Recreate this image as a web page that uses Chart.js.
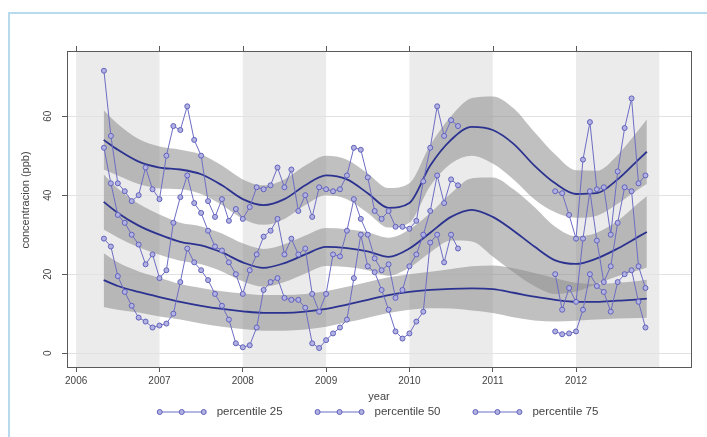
<!DOCTYPE html>
<html>
<head>
<meta charset="utf-8">
<script src="https://cdn.jsdelivr.net/npm/chart.js@4.4.1/dist/chart.umd.min.js"></script>
<style>html,body{margin:0;padding:0;background:#fff}canvas{display:block}</style>
</head>
<body>
<canvas id="c" width="707" height="437"></canvas>
<script>
// ---- categories (monthly) ----
const months = [
 "2006-05","2006-06","2006-07","2006-08","2006-09","2006-10","2006-11","2006-12",
 "2007-01","2007-02","2007-03","2007-04","2007-05","2007-06","2007-07","2007-08","2007-09","2007-10","2007-11","2007-12",
 "2008-01","2008-02","2008-03","2008-04","2008-05","2008-06","2008-07","2008-08","2008-09","2008-10","2008-11","2008-12",
 "2009-01","2009-02","2009-03","2009-04","2009-05","2009-06","2009-07","2009-08","2009-09","2009-10","2009-11","2009-12",
 "2010-01","2010-02","2010-03","2010-04","2010-05","2010-06","2010-07","2010-08","2010-09","2010-10","2010-11","2010-12",
 "2011-01","2011-02","2011-03","2011-04","2011-05","2011-06","2011-07","2011-08","2011-09","2011-10","2011-11","2011-12",
 "2012-01","2012-02","2012-03","2012-04","2012-05","2012-06","2012-07","2012-08","2012-09","2012-10","2012-11"
];
// ---- monthly percentile series (ppb) ----
const p25 = [29,27,19.5,15.5,12,9,8,6.5,7,7.5, 10,18,26.5,23,21,18.5,15,12,8.5,2.5,
 1.5,2,6.5,16,18,19,14,13.5,13.5,11.5, 2.5,1.3,3.3,5,6.5,8.5,19,30,22,20.5,
 16,11,5.5,3.7,5,8,10.5,28,30,23, 30,26.5,
 null,null,null,null,null,null,null,null,null,null,null,null,null,
 5.5,4.8,5,5.5,11,20,17,15.5,10.5,18,20,21,13,6.5];
const p50 = [52,43,35,33,30,27.5,22.5,25,19,21, 33,39.5,45,38,35.5,31,27,26,23,20,
 15,21,25,29.5,31,34,25,29,25,26.5, 15,10.5,15,25,24.5,31,39,34,30,24,
 21,22.5,14,16,22,25,30,36,45,38, 44,42.5,
 null,null,null,null,null,null,null,null,null,null,null,null,null,
 20,11,16.5,13,29,41,28.5,18,22,33,42,41,22,16.5];
const p75 = [71.5,55,43,41,38.5,40,47,41.5,39,50, 57.5,56.5,62.5,54,50,38.5,34.5,39,33.5,36.5,
 34,37,42,41.5,42.5,47,42,46.5,36,40, 34.5,42,41.5,41,41.5,45,52,51.5,44.5,36,
 34,36,32,32,31.5,33.5,43.5,52,62.5,55, 59,57.5,
 null,null,null,null,null,null,null,null,null,null,null,null,null,
 41,40.5,35,29,49,58.5,41.5,42,30,46,57,64.5,43,45];

// ---- smoothed fits and confidence bands ----
const fitYears = [2006.33,2006.5,2006.75,2007,2007.25,2007.5,2007.75,2008,2008.25,2008.5,2008.75,2009,2009.25,2009.5,
 2009.75,2010,2010.25,2010.5,2010.75,2011,2011.25,2011.5,2011.75,2012,2012.25,2012.5,2012.75,2012.85];
const fit75   = [54,51.5,48.5,47,46.5,45.3,42.5,39,37.5,39,42.5,45,44,40.5,36.8,38,47.5,54,57.3,56.5,53,47.5,43,40.3,40.5,44,49,51];
const fit75Lo = [46.5,45,42.8,41.7,41.5,40.3,37.5,34,32.5,34,37.5,40,39,35.5,31.8,33,42.3,48,50,48,44,39,35.7,34.3,34.8,37.8,41.5,42.8];
const fit75Hi = [61.5,58,54.2,52.3,51.5,50.3,47.5,44,42.5,44,47.5,50,49,45.5,41.8,43,52.7,60,64.6,65,62,56,50.3,46.3,46.2,50.2,56.5,59.2];
const fit50   = [38.3,35.5,32.3,30,28.2,27.3,25.5,23,21.6,22.8,25,26.9,26.6,25.8,24.4,26.5,30.5,34.5,36.3,34.5,31,27,23.5,22.6,24,26.5,29.5,30.7];
const fit50Lo = [31.3,29.3,26.8,24.9,23.4,22.5,20.7,18.2,16.8,18,20.2,22.1,21.8,21,19.6,21.7,25.5,28.5,28.3,24.5,20.5,17,15,15.6,17.5,19.5,21,21.7];
const fit50Hi = [45.3,41.7,37.8,35.1,33,32.1,30.3,27.8,26.4,27.6,29.8,31.7,31.4,30.6,29.2,31.3,35.5,40.5,44.3,44.5,41.5,37,32,29.6,30.5,33.5,38,39.7];
const fit25   = [18.5,17,15.5,14.2,13,12,11.2,10.6,10.2,10.2,10.5,11.2,12.3,13.5,14.7,15.5,16,16.3,16.4,16.2,15.3,14.3,13.5,13,13,13.3,13.6,13.8];
const fit25Lo = [11.7,11,10.3,9.3,8.5,7.5,6.7,6.1,5.7,5.7,6,6.7,7.8,9,10.2,11,11.4,11.3,10.8,10.2,9.1,8.3,8,8.2,8.5,8.8,8.9,9];
const fit25Hi = [25.3,23,20.7,19.1,17.5,16.5,15.7,15.1,14.7,14.7,15,15.7,16.8,18,19.2,20,20.6,21.3,22,22.2,21.5,20.3,19,17.8,17.5,17.8,18.3,18.6];

// ---- axes ----
const xTicks = [2006,2007,2008,2009,2010,2011,2012];
const yTicks = [0,20,40,60];
const shadedYears = [2006,2008,2010,2012];
const seriesLabels = ["percentile 25","percentile 50","percentile 75"];

const FONT = '"Liberation Sans", Arial, sans-serif';
const LINE = '#6d6dc4';
const PT_FILL = '#b2b2e2';
const PT_BORDER = '#6262bc';
const FIT = '#2b3290';
const BAND = 'rgba(140,140,140,0.55)';

function toYear(s){ const p = s.split('-').map(Number); return p[0] + (p[1]-1)/12; }
const pts = arr => months.map((m,i) => ({x: toYear(m), y: arr[i]}));
const fit = arr => fitYears.map((x,i) => ({x: x, y: arr[i]}));

function bandPair(hi, lo){
  return [
    {data: fit(hi), fill: '+1', backgroundColor: BAND, borderWidth: 0, pointRadius: 0, cubicInterpolationMode: 'monotone', order: 3},
    {data: fit(lo), fill: false, borderWidth: 0, pointRadius: 0, cubicInterpolationMode: 'monotone', order: 3}
  ];
}
function fitLine(arr){
  return {data: fit(arr), fill: false, borderColor: FIT, borderWidth: 1.8, pointRadius: 0, cubicInterpolationMode: 'monotone', order: 2};
}
function raw(arr, label){
  return {label: label, data: pts(arr), fill: false, borderColor: LINE, borderWidth: 1, spanGaps: false,
    pointRadius: 2.5, pointBackgroundColor: PT_FILL, pointBorderColor: PT_BORDER, pointBorderWidth: 1, order: 1};
}

const decor = {
  id: 'decor',
  beforeDraw(chart){
    const {ctx, chartArea: a, scales: {x}} = chart;
    ctx.save();
    ctx.fillStyle = '#fff';
    ctx.fillRect(0, 0, chart.width, chart.height);
    ctx.strokeStyle = '#b7daee'; ctx.lineWidth = 2;
    ctx.beginPath(); ctx.moveTo(9, chart.height + 2); ctx.lineTo(9, 13); ctx.lineTo(chart.width + 2, 13); ctx.stroke();
    ctx.fillStyle = '#ebebeb';
    shadedYears.forEach(y0 => {
      const l = Math.max(x.getPixelForValue(y0), a.left);
      const r = Math.min(x.getPixelForValue(y0 + 1), a.right);
      if (r > l) ctx.fillRect(l, a.top, r - l, a.bottom - a.top);
    });
    ctx.restore();
  },
  afterDraw(chart){
    const {ctx, chartArea: a, scales: {x}} = chart;
    ctx.save();
    // frame
    ctx.strokeStyle = '#5a5a5a'; ctx.lineWidth = 1;
    ctx.strokeRect(Math.round(a.left) + 0.5, Math.round(a.top) + 0.5, Math.round(a.right - a.left), Math.round(a.bottom - a.top));
    // top ticks
    ctx.beginPath();
    xTicks.forEach(v => { const px = Math.round(x.getPixelForValue(v)) + 0.5; ctx.moveTo(px, a.top); ctx.lineTo(px, a.top - 5); });
    ctx.stroke();
    // axis titles
    ctx.fillStyle = '#444';
    ctx.font = '11px ' + FONT;
    ctx.textAlign = 'center'; ctx.textBaseline = 'middle';
    ctx.fillText('year', (a.left + a.right) / 2, 397);
    ctx.save();
    ctx.translate(26, 200); ctx.rotate(-Math.PI / 2);
    ctx.fillText('concentracion (ppb)', 0, 0);
    ctx.restore();
    // legend
    ctx.font = '11.5px ' + FONT;
    const mw = 44, g1 = 13, g2 = 35, ly = 412;
    const widths = seriesLabels.map(t => ctx.measureText(t).width);
    const total = widths.reduce((s, w) => s + mw + g1 + w, 0) + g2 * (seriesLabels.length - 1);
    let x0 = (a.left + a.right) / 2 - total / 2;
    seriesLabels.forEach((t, i) => {
      ctx.strokeStyle = LINE; ctx.lineWidth = 1;
      ctx.beginPath(); ctx.moveTo(x0, ly); ctx.lineTo(x0 + mw, ly); ctx.stroke();
      [0, mw / 2, mw].forEach(dx => {
        ctx.beginPath(); ctx.arc(x0 + dx, ly, 2.5, 0, Math.PI * 2);
        ctx.fillStyle = PT_FILL; ctx.fill();
        ctx.strokeStyle = PT_BORDER; ctx.stroke();
      });
      ctx.fillStyle = '#444'; ctx.textAlign = 'left'; ctx.textBaseline = 'middle';
      ctx.fillText(t, x0 + mw + g1, ly);
      x0 += mw + g1 + widths[i] + g2;
    });
    ctx.restore();
  }
};

new Chart(document.getElementById('c'), {
  type: 'line',
  data: {
    datasets: [
      ...bandPair(fit75Hi, fit75Lo),
      ...bandPair(fit50Hi, fit50Lo),
      ...bandPair(fit25Hi, fit25Lo),
      fitLine(fit75), fitLine(fit50), fitLine(fit25),
      raw(p25, seriesLabels[0]), raw(p50, seriesLabels[1]), raw(p75, seriesLabels[2])
    ]
  },
  options: {
    responsive: false,
    devicePixelRatio: 1,
    animation: false,
    events: [],
    layout: {padding: {left: 0, right: 16, top: 51, bottom: 0}},
    plugins: {legend: {display: false}, tooltip: {enabled: false}, title: {display: false}},
    scales: {
      x: {
        type: 'linear', min: 2005.89, max: 2013.38,
        afterBuildTicks: s => { s.ticks = xTicks.map(v => ({value: v})); },
        afterFit: s => { s.height = 70; },
        border: {display: false},
        grid: {drawOnChartArea: false, drawTicks: true, tickLength: 5, tickColor: '#5a5a5a', color: '#5a5a5a'},
        ticks: {color: '#444', font: {family: FONT, size: 10}, padding: 3, maxRotation: 0, autoSkip: false,
          callback: v => String(v)}
      },
      y: {
        type: 'linear', min: -3.5, max: 76.5,
        afterBuildTicks: s => { s.ticks = yTicks.map(v => ({value: v})); },
        afterFit: s => { s.width = 67; },
        border: {display: false},
        grid: {color: '#e2e2e2', lineWidth: 1, drawTicks: true, tickLength: 5, tickColor: '#5a5a5a'},
        ticks: {color: '#444', font: {family: FONT, size: 10}, padding: 8, minRotation: 90, maxRotation: 90,
          crossAlign: 'center', callback: v => String(v)}
      }
    }
  },
  plugins: [decor]
});
</script>
</body>
</html>
